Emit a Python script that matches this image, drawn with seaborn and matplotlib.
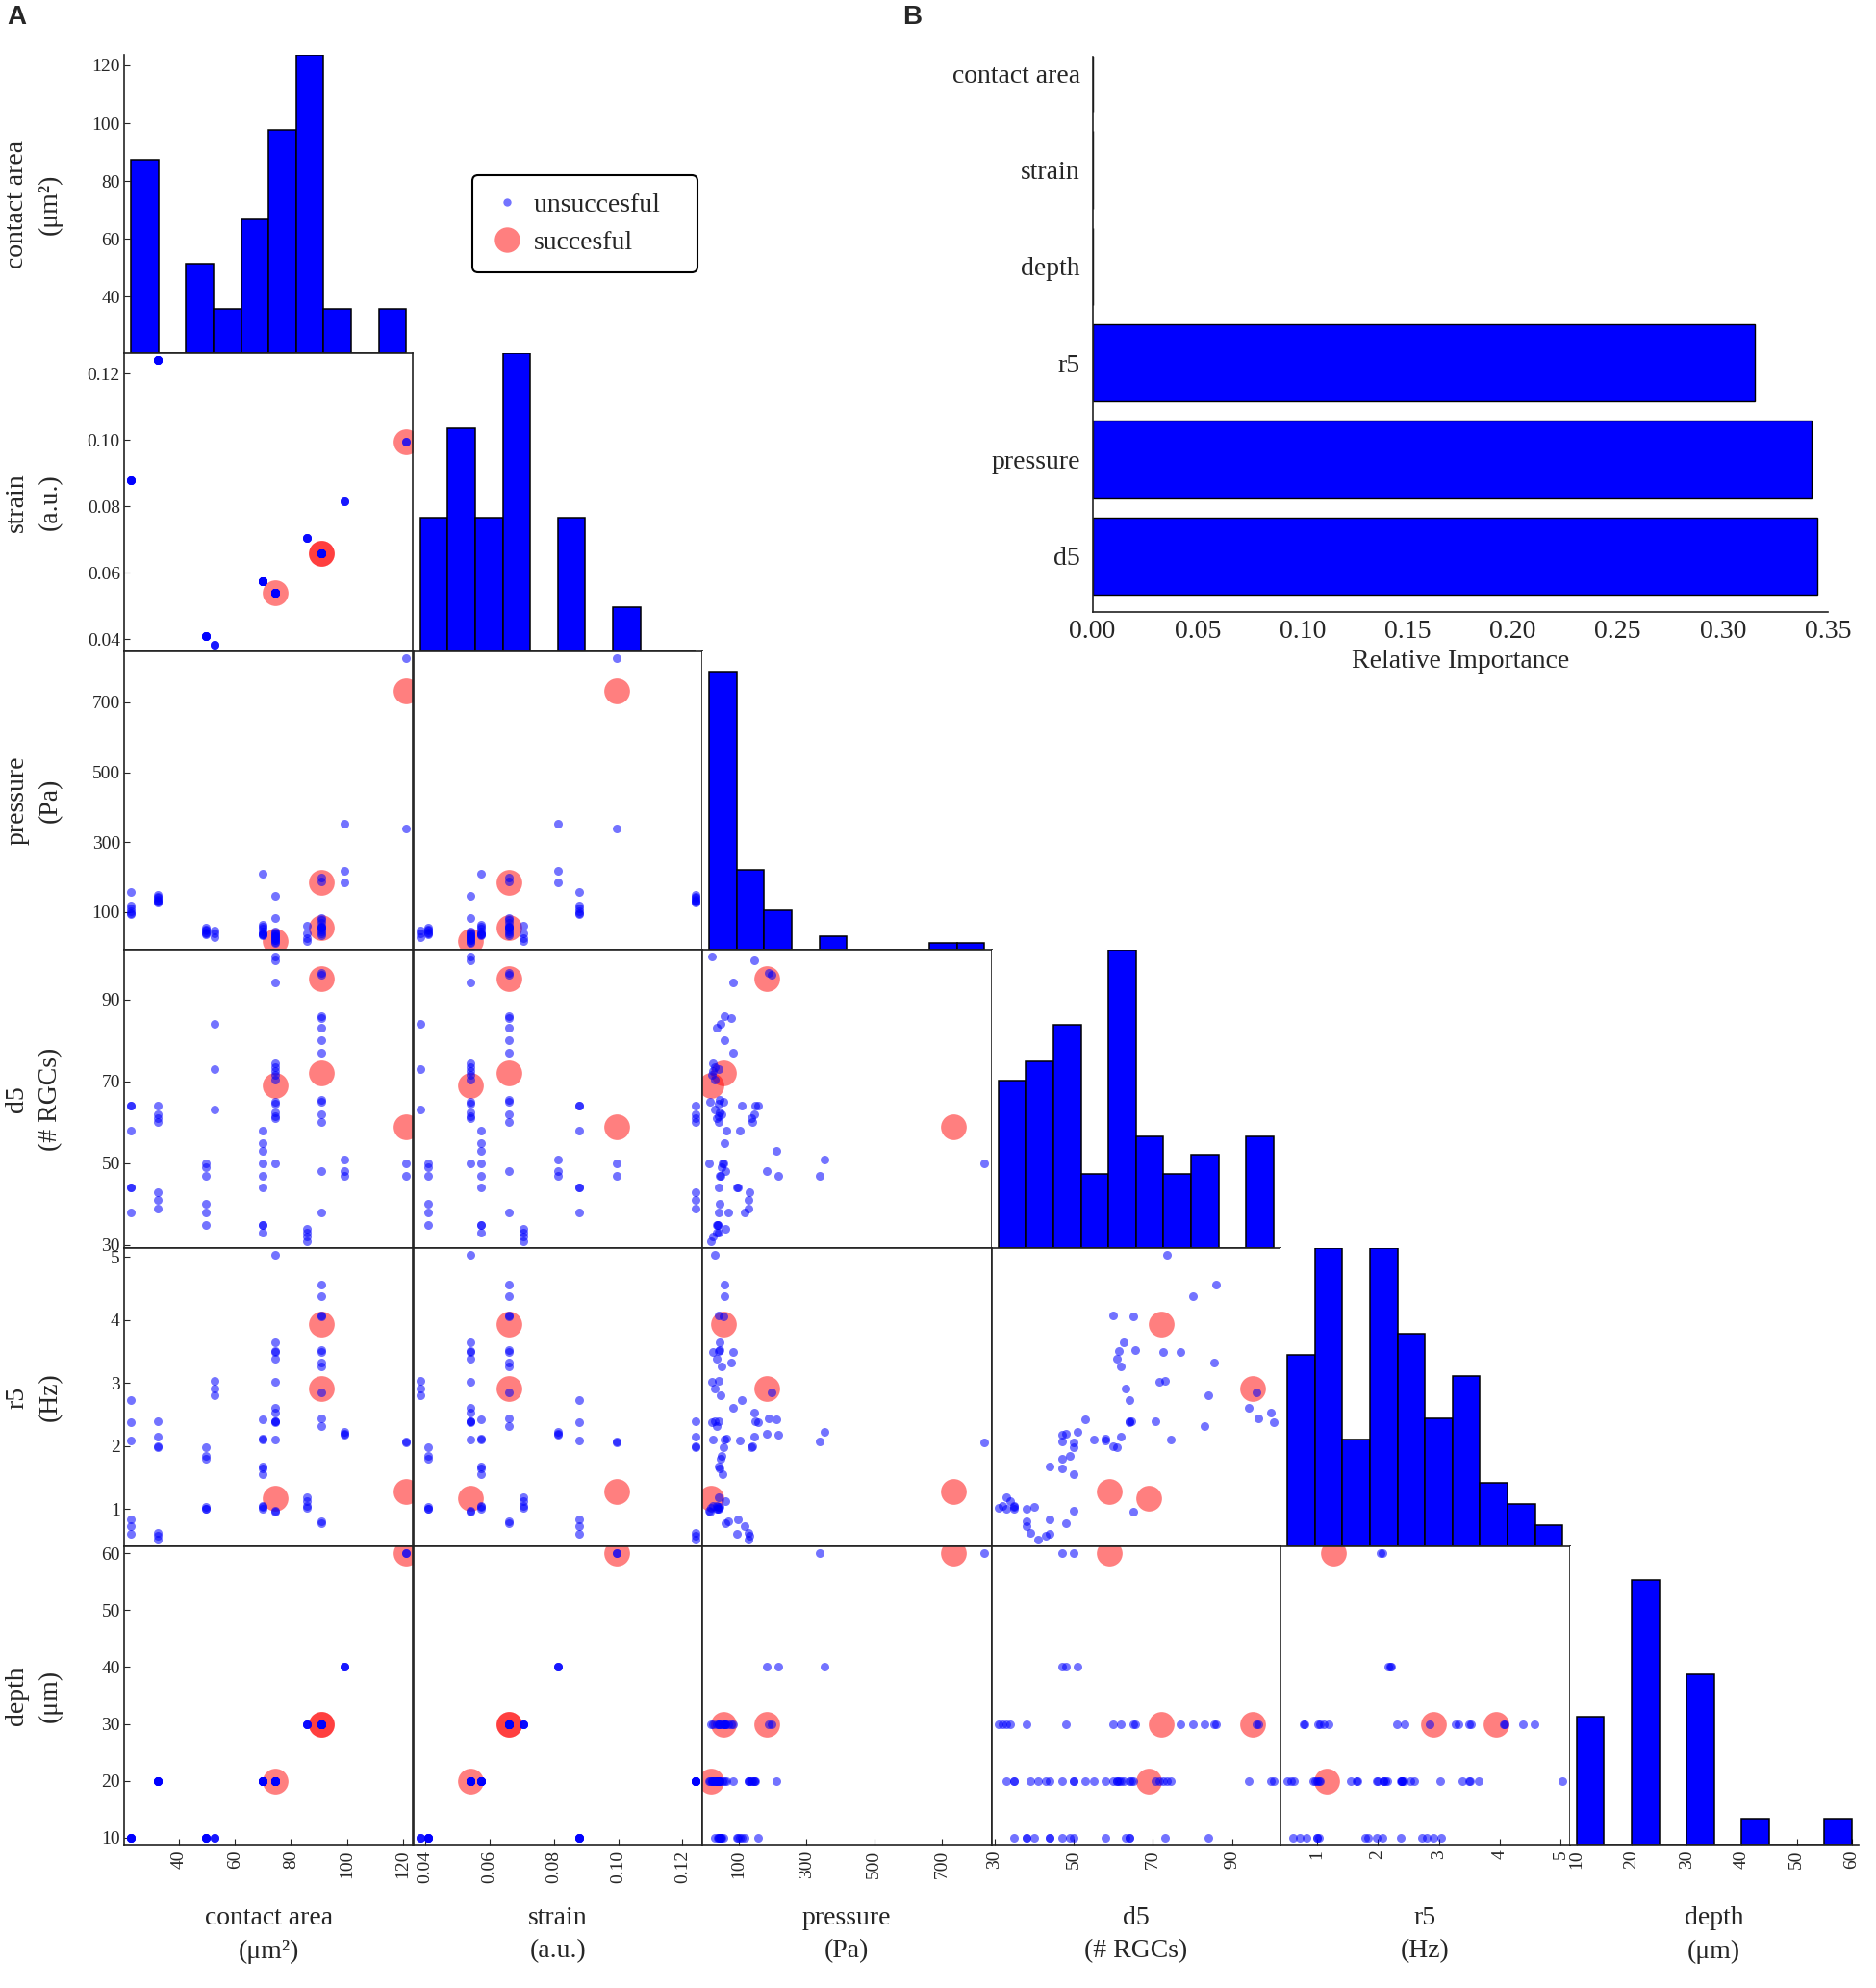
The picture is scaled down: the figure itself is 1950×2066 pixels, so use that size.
import numpy as np
import pandas as pd
import matplotlib
matplotlib.use("Agg")
import matplotlib.pyplot as plt
from matplotlib.lines import Line2D
import seaborn as sns

# ------------------------------------------------------------------ data
variables = ["contact area", "strain", "pressure", "d5", "r5", "depth"]
axis_titles = ["contact area\n(μm²)", "strain\n(a.u.)", "pressure\n(Pa)",
               "d5\n(# RGCs)", "r5\n(Hz)", "depth\n(μm)"]

# experiment groups (contact area / strain / depth are shared inside a group)
group_names = ["A", "B", "C", "D", "E", "F", "G", "H", "I", "J"]
group_contact_area = [22.9, 32.3, 49.5, 52.6, 70.0, 74.4, 85.8, 91.0, 99.0, 121.2]
group_strain = [0.088, 0.124, 0.041, 0.0385, 0.0575, 0.054, 0.0705, 0.066, 0.0814, 0.0995]
group_depth = [10, 20, 10, 10, 20, 20, 30, 30, 40, 60]

sample_group = list("AAAAAA" "BBBBBBB" "CCCCCC" "DDD" "EEEEEEEEE"
                    "FFFFFFFFFFFFFFF" "GGGG" "HHHHHHHHHHHHHHH" "III" "JJJ")
d5 = [64, 64, 58, 44, 44, 38,
      64, 62, 60, 61, 43, 41, 39,
      50, 49, 47, 40, 38, 35,
      84, 73, 63,
      58, 55, 53, 50, 47, 44, 35, 35, 33,
      73.5, 62.5, 61.5, 72.5, 61.0, 71.5, 94.1, 99.6, 100.4, 64.5, 70.5, 74.5, 65.0, 50.0, 69.0,
      34, 33, 32, 31,
      96.0, 96.5, 86.0, 85.5, 83.0, 80.0, 77.0, 65.5, 65.0, 62.0, 60.0, 48.0, 38.0, 72.0, 95.0,
      51, 48, 47,
      50, 47, 59]
r5 = [2.73, 2.38, 2.08, 0.84, 0.61, 0.73,
      2.40, 2.15, 2.00, 1.98, 0.58, 0.52, 0.62,
      1.98, 1.84, 1.80, 1.04, 1.01, 1.00,
      2.80, 3.04, 2.91,
      2.12, 2.10, 2.43, 1.55, 1.65, 1.67, 1.05, 1.03, 1.00,
      5.03, 3.65, 3.51, 3.49, 3.38, 3.02, 2.60, 2.53, 2.38, 2.39, 2.40, 2.10, 0.95, 0.97, 1.17,
      1.12, 1.19, 1.05, 1.02,
      2.85, 2.44, 4.56, 3.33, 2.31, 4.38, 3.50, 3.52, 4.06, 3.27, 4.08, 0.78, 0.80, 3.93, 2.91,
      2.22, 2.20, 2.18,
      2.05, 2.07, 1.28]
pressure = [110, 157, 104, 97, 95, 118,
            150, 145, 140, 136, 132, 130, 128,
            55, 50, 47, 43, 40, 38,
            48, 40, 29,
            63, 58, 211, 52, 45, 40, 36, 38, 34,
            30, 45, 40, 25, 35, 20, 83, 147, 20, 40, 30, 25, 15, 13, 18,
            62, 40, 25, 18,
            198, 188, 59, 78, 35, 57, 83, 45, 55, 50, 40, 60, 70, 56, 184,
            353, 184, 218,
            825, 340, 732]
success = [0, 0, 0, 0, 0, 0,
           0, 0, 0, 0, 0, 0, 0,
           0, 0, 0, 0, 0, 0,
           0, 0, 0,
           0, 0, 0, 0, 0, 0, 0, 0, 0,
           0, 0, 0, 0, 0, 0, 0, 0, 0, 0, 0, 0, 0, 0, 1,
           0, 0, 0, 0,
           0, 0, 0, 0, 0, 0, 0, 0, 0, 0, 0, 0, 0, 1, 1,
           0, 0, 0,
           0, 0, 1]

# diagonal histogram bar heights (10 bins between min and max of each variable)
hist_counts = {
    "contact area": [13, 0, 6, 3, 9, 15, 20, 3, 0, 3],
    "strain":       [9, 15, 9, 20, 0, 9, 0, 3, 0, 0],
    "pressure":     [42, 12, 6, 0, 2, 0, 0, 0, 1, 1],
    "d5":           [9, 10, 12, 4, 16, 6, 4, 5, 0, 6],
    "r5":           [9, 14, 5, 14, 10, 6, 8, 3, 2, 1],
    "depth":        [15, 0, 31, 0, 20, 0, 3, 0, 0, 3],
}
hist_top = {"contact area": 20, "strain": 20, "pressure": 45,
            "d5": 16, "r5": 14, "depth": 35}

tick_values = {
    "contact area": [40, 60, 80, 100, 120],
    "strain": [0.04, 0.06, 0.08, 0.10, 0.12],
    "pressure": [100, 300, 500, 700],
    "d5": [30, 50, 70, 90],
    "r5": [1, 2, 3, 4, 5],
    "depth": [10, 20, 30, 40, 50, 60],
}
tick_labels = {
    "contact area": ["40", "60", "80", "100", "120"],
    "strain": ["0.04", "0.06", "0.08", "0.10", "0.12"],
    "pressure": ["100", "300", "500", "700"],
    "d5": ["30", "50", "70", "90"],
    "r5": ["1", "2", "3", "4", "5"],
    "depth": ["10", "20", "30", "40", "50", "60"],
}

# panel B
features = ["contact area", "strain", "depth", "r5", "pressure", "d5"]
importance = [0.0, 0.0, 0.0, 0.315, 0.342, 0.345]
importance_ticks = [0.00, 0.05, 0.10, 0.15, 0.20, 0.25, 0.30, 0.35]

# ------------------------------------------------------------------ frame
gi = {g: k for k, g in enumerate(group_names)}
df = pd.DataFrame({
    "contact area": [group_contact_area[gi[g]] for g in sample_group],
    "strain": [group_strain[gi[g]] for g in sample_group],
    "pressure": pressure,
    "d5": d5,
    "r5": r5,
    "depth": [group_depth[gi[g]] for g in sample_group],
    "success": success,
})

sns.set_style("white")
plt.rcParams["font.family"] = ["Liberation Serif", "DejaVu Serif"]
plt.rcParams["axes.linewidth"] = 1.2

W, H = 1950, 2066
x0, y0, cw, ch = 129, 57, 300.5, 310
fig = plt.figure(figsize=(W / 100, H / 100), dpi=100)

def rect(i, j):
    return [(x0 + j * cw) / W, 1 - (y0 + (i + 1) * ch) / H, cw / W, ch / H]

bounds = {}
for v in variables:
    lo, hi = df[v].min(), df[v].max()
    pad = 0.025 * (hi - lo)
    bounds[v] = (lo - pad, hi + pad)

n = len(variables)
TICK_FS = 14
LABEL_FS = 20
succ = df[df.success == 1]
fail = df[df.success == 0]

for i in range(n):
    for j in range(i + 1):
        ax = fig.add_axes(rect(i, j))
        xv, yv = variables[j], variables[i]
        if i == j:
            vmin, vmax = float(df[xv].min()), float(df[xv].max())
            edges = np.linspace(vmin, vmax, 11)
            hdf = pd.DataFrame({"x": 0.5 * (edges[:-1] + edges[1:]),
                                "w": hist_counts[xv]})
            sns.histplot(data=hdf, x="x", weights="w", bins=10, binrange=(vmin, vmax),
                         ax=ax, color="#0000FF", edgecolor="black", linewidth=1.1, alpha=1)
            ax.set_xlim(bounds[xv])
            ax.set_ylim(0, hist_top[xv])
            for s in ax.spines.values():
                s.set_visible(False)
            ax.tick_params(left=False, bottom=False, labelleft=False, labelbottom=False)
            if i == 0:
                lo, hi = bounds[yv]
                pos = [(t - lo) / (hi - lo) * hist_top[yv] for t in tick_values[yv]]
                ax.spines["left"].set_visible(True)
                ax.set_yticks(pos)
                ax.set_yticklabels(tick_labels[yv])
                ax.tick_params(axis="y", left=True, labelleft=True, direction="in",
                               length=4, labelsize=TICK_FS, pad=3)
            if i == n - 1:
                ax.spines["bottom"].set_visible(True)
                ax.set_xticks(tick_values[xv])
                ax.set_xticklabels(tick_labels[xv], rotation=90)
                ax.tick_params(axis="x", bottom=True, labelbottom=True, direction="in",
                               length=4, labelsize=TICK_FS, pad=4)
        else:
            sns.scatterplot(data=succ, x=xv, y=yv, ax=ax, s=370, color="red",
                            alpha=0.5, linewidth=0, legend=False)
            sns.scatterplot(data=fail, x=xv, y=yv, ax=ax, s=42, color="blue",
                            alpha=0.55, linewidth=0, legend=False)
            ax.set_xlim(bounds[xv])
            ax.set_ylim(bounds[yv])
            for s in ax.spines.values():
                s.set_color("#222222")
            ax.tick_params(left=False, bottom=False, labelleft=False, labelbottom=False)
            if j == 0:
                ax.set_yticks(tick_values[yv])
                ax.set_yticklabels(tick_labels[yv])
                ax.tick_params(axis="y", left=True, labelleft=True, direction="in",
                               length=4, labelsize=TICK_FS, pad=3)
            if i == n - 1:
                ax.set_xticks(tick_values[xv])
                ax.set_xticklabels(tick_labels[xv], rotation=90)
                ax.tick_params(axis="x", bottom=True, labelbottom=True, direction="in",
                               length=4, labelsize=TICK_FS, pad=4)
        ax.set_xlabel("")
        ax.set_ylabel("")

# axis titles
for k in range(n):
    yc = y0 + ch * (k + 0.5)
    fig.text(35 / W, 1 - yc / H, axis_titles[k], rotation=90, ha="center",
             va="center", multialignment="center", fontsize=LABEL_FS, linespacing=1.5)
    xc = x0 + cw * (k + 0.5)
    fig.text(xc / W, 1 - 2011 / H, axis_titles[k], ha="center", va="center",
             multialignment="center", fontsize=LABEL_FS, linespacing=1.48)

# legend
handles = [Line2D([], [], marker="o", ls="", color="blue", alpha=0.55, markersize=6, mew=0),
           Line2D([], [], marker="o", ls="", color="red", alpha=0.5, markersize=19, mew=0)]
leg = fig.legend(handles, ["unsuccesful   ", "succesful"], loc="upper left",
                 bbox_to_anchor=(491 / W, 1 - 182 / H), borderaxespad=0, frameon=True,
                 fancybox=True, edgecolor="black", framealpha=1, fontsize=LABEL_FS,
                 handlelength=1.3, handletextpad=0.35, borderpad=0.65, labelspacing=0.5)
leg.get_frame().set_linewidth(1.5)

# panel B
axB = fig.add_axes([1135.5 / W, 1 - 636 / H, 764.5 / W, 577 / H])
sns.barplot(x=importance, y=features, orient="h", color="#0000FF", saturation=1,
            edgecolor="black", linewidth=1, width=0.8, ax=axB)
axB.set_xlim(0, 0.35)
axB.set_ylim(5.58, -0.17)
axB.set_xticks(importance_ticks)
axB.set_xticklabels([f"{t:.2f}" for t in importance_ticks])
axB.tick_params(axis="both", direction="in", length=4, labelsize=LABEL_FS)
axB.tick_params(axis="x", pad=6)
axB.tick_params(axis="y", pad=9)
axB.set_xlabel("Relative Importance", fontsize=LABEL_FS, labelpad=4)
axB.set_ylabel("")
for s in ["top", "right"]:
    axB.spines[s].set_visible(False)
for s in ["left", "bottom"]:
    axB.spines[s].set_color("#222222")

# panel letters
fig.text(17 / W, 1 - 18 / H, "A", fontsize=20, fontweight="bold",
         family=["Liberation Sans", "DejaVu Sans"], ha="center", va="center")
fig.text(948 / W, 1 - 18 / H, "B", fontsize=20, fontweight="bold",
         family=["Liberation Sans", "DejaVu Sans"], ha="center", va="center")

fig.savefig("out.png", dpi=100)
